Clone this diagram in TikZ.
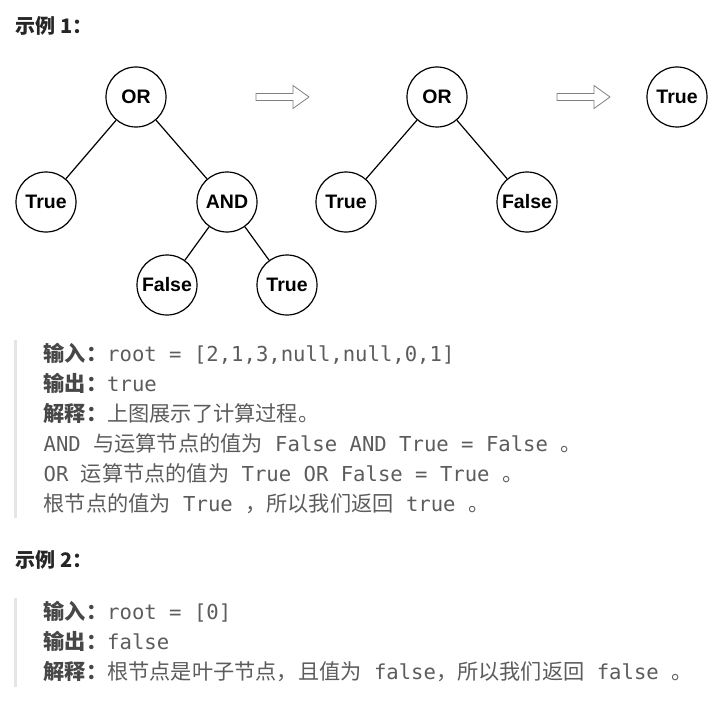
\documentclass[tikz,border=0pt]{standalone}
\usepackage{fontspec}
\setmainfont{Liberation Sans}
\setmonofont{DejaVu Sans Mono}
\newfontfamily\cjk{Noto Sans CJK SC}
\definecolor{headgray}{rgb}{0.15,0.15,0.15}
\definecolor{textgray}{rgb}{0.36,0.36,0.36}
\definecolor{labelgray}{rgb}{0.28,0.28,0.28}
\definecolor{bargray}{rgb}{0.9,0.9,0.9}
\definecolor{arrowgray}{rgb}{0.5,0.5,0.5}
\usetikzlibrary{positioning}
\tikzset{
    op/.style={
           circle,
           draw=black, line width=1.2pt,
           minimum size=60pt,
           inner sep=0pt,
           font=\fontsize{19.5}{19.5}\selectfont\bfseries,
           },
    heading/.style={anchor=base west, inner sep=0pt, text=headgray,
           font=\cjk\fontsize{20}{20}\selectfont\bfseries},
    txtline/.style={anchor=base west, inner sep=0pt, text=textgray,
           font=\ttfamily\fontsize{20.6}{20.6}\selectfont},
    hollow/.style={draw=arrowgray, fill=white, line width=0.8pt, line join=miter},
}
\newcommand{\zh}[1]{{\cjk\fontsize{21.2}{21.2}\selectfont #1}}
\newcommand{\lbl}[1]{{\cjk\fontsize{21.2}{21.2}\selectfont\bfseries\color{labelgray}#1}}
\newcommand{\hollowarrow}[1]{%
  \draw[hollow] (#1) ++(0,-3.5) -- ++(37,0) -- ++(0,-8) -- ++(16,11.5)
     -- ++(-16,11.5) -- ++(0,-8) -- ++(-37,0) -- cycle;}

\begin{document}
\begin{tikzpicture}[x=1pt, y=-1pt, line width=1.2pt]
      \useasboundingbox (0,0) rectangle (725,706);
      \node[heading] (ex1) at (15,34) {示例 1：};
      % tree before
      \node[op] (or1)  at (136, 97) {OR};
      \node[op] (t1)   at ( 46,202) {True};
      \node[op] (and1) at (227,202) {AND};
      \node[op] (f1)   at (167,285) {False};
      \node[op] (t2)   at (287,285) {True};
      \draw (or1) -- (t1);
      \draw (or1) -- (and1);
      \draw (and1) -- (f1);
      \draw (and1) -- (t2);
      % after one step
      \node[op] (or2)  at (437, 97) {OR};
      \node[op] (t3)   at (346,202) {True};
      \node[op] (f2)   at (527,202) {False};
      \draw (or2) -- (t3);
      \draw (or2) -- (f2);
      \node[op] (t4)   at (677, 97) {True};
      \coordinate (arr1) at (256,97);
      \coordinate (arr2) at (557,97);
      \hollowarrow{arr1}
      \hollowarrow{arr2}
      % explanation 1
      \fill[bargray] (14,340) rectangle (17,518);
      \node[txtline] (txt1) at (43,361) {\lbl{输入：}root = [2,1,3,null,null,0,1]};
      \node[txtline] (txt2) at (43,391) {\lbl{输出：}true};
      \node[txtline] (txt3) at (43,421) {\lbl{解释：}\zh{上图展示了计算过程。}};
      \node[txtline] (txt4) at (43,451) {AND \zh{与运算节点的值为} False AND True = False \zh{。}};
      \node[txtline] (txt5) at (43,481) {OR \zh{运算节点的值为} True OR False = True \zh{。}};
      \node[txtline] (txt6) at (43,511) {\zh{根节点的值为} True \zh{，所以我们返回} true \zh{。}};
      % example 2
      \node[heading] (ex2) at (15,567) {示例 2：};
      \fill[bargray] (14,598) rectangle (17,687);
      \node[txtline] (txt7) at (43,619) {\lbl{输入：}root = [0]};
      \node[txtline] (txt8) at (43,649) {\lbl{输出：}false};
      \node[txtline] (txt9) at (43,679) {\lbl{解释：}\zh{根节点是叶子节点，且值为} false\zh{，所以我们返回} false \zh{。}};
\end{tikzpicture}
\end{document}
